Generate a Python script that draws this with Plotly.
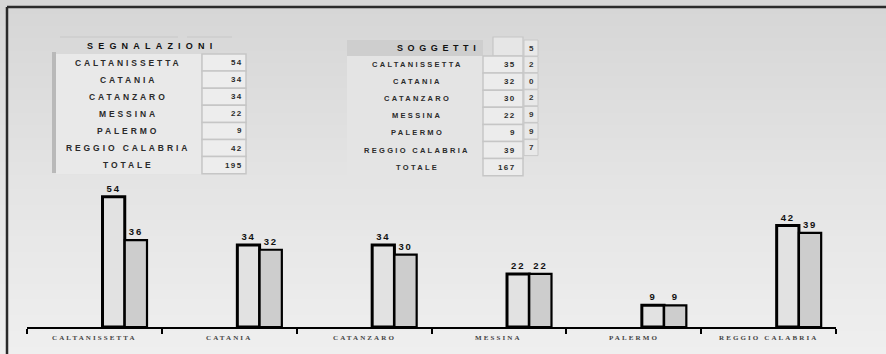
import plotly.graph_objects as go

# ---- data ----
provinces = ["CALTANISSETTA", "CATANIA", "CATANZARO", "MESSINA", "PALERMO", "REGGIO CALABRIA"]
segnalazioni = [54, 34, 34, 22, 9, 42]          # table + first bar series
soggetti_table = [35, 32, 30, 22, 9, 39]        # values printed in the SOGGETTI table
soggetti_bars = [36, 32, 30, 22, 9, 39]         # values labelled on the second bar series
side_digits = ["5", "2", "0", "2", "9", "9", "7"]  # partly covered column beside SOGGETTI

W, H = 886, 354
idx = list(range(len(provinces)))

fig = go.Figure()

# ---- page background: vertical gradient drawn as a smooth heatmap in pixel space ----
bg_rows = [7, H]
fig.add_trace(go.Heatmap(
    x=[7, W], y=bg_rows, z=[[0, 0], [1, 1]], zsmooth="best", showscale=False,
    colorscale=[[0, "#d6d6d6"], [0.5, "#e4e4e4"], [1, "#efefef"]],
    hoverinfo="skip", xaxis="x", yaxis="y"))

# ---- bars ----
def spaced(s, sp):
    return f'<span style="letter-spacing:{sp}px">{s}</span>'

bar_font = dict(family="Liberation Sans", size=9.5, color="#111", weight="bold")
fig.add_trace(go.Bar(
    x=idx, y=segnalazioni, width=0.165, offset=0.06,
    marker=dict(color="#e2e2e2", line=dict(color="#000", width=3)),
    text=[spaced(v, 1.8) for v in segnalazioni], textposition="outside",
    textfont=bar_font, cliponaxis=False, showlegend=False,
    xaxis="x2", yaxis="y2"))
fig.add_trace(go.Bar(
    x=idx, y=soggetti_bars, width=0.165, offset=0.225,
    marker=dict(color="#cdcdcd", line=dict(color="#000", width=2.2)),
    text=[spaced(v, 1.8) for v in soggetti_bars], textposition="outside",
    textfont=bar_font, cliponaxis=False, showlegend=False,
    xaxis="x2", yaxis="y2"))

shapes = []
ann = []

# frame edges (left and top)
shapes.append(dict(type="line", xref="x", yref="y", x0=7, x1=7, y0=7, y1=H,
                   line=dict(color="#2a2a2a", width=2.5)))
shapes.append(dict(type="line", xref="x", yref="y", x0=7, x1=W, y0=7, y1=7,
                   line=dict(color="#2a2a2a", width=2.5)))


def rect(x0, y0, x1, y1, fill, lc="rgba(0,0,0,0)", lw=0):
    shapes.append(dict(type="rect", xref="x", yref="y", x0=x0, x1=x1, y0=y0, y1=y1,
                       fillcolor=fill, line=dict(color=lc, width=lw), layer="above"))


def text(x, y, s, size, sp, anchor="center", color="#2b2b2b", bold=True, family="Liberation Sans"):
    ann.append(dict(xref="x", yref="y", x=x, y=y, text=spaced(s, sp), showarrow=False,
                    xanchor=anchor, yanchor="middle",
                    font=dict(family=family, size=size, color=color,
                              weight="bold" if bold else "normal")))


row_h = 17.1
row_lab = provinces + ["TOTALE"]

# ---- table 1: SEGNALAZIONI ----
rect(56, 38, 218, 54, "#d9d9d9")
rect(56, 54, 201, 174, "#e9e9e9")
rect(52, 52, 56, 173, "#b9b9b9")
shapes.append(dict(type="line", xref="x", yref="y", x0=60, x1=178, y0=37, y1=37,
                   line=dict(color="#c8c8c8", width=1)))
shapes.append(dict(type="line", xref="x", yref="y", x0=187, x1=232, y0=37, y1=37,
                   line=dict(color="#c8c8c8", width=1)))
text(152, 45.5, "SEGNALAZIONI", 9, 5.2, color="#111")
vals1 = segnalazioni + [sum(segnalazioni)]
for i, (lab, v) in enumerate(zip(row_lab, vals1)):
    y0 = 54 + i * row_h
    rect(202, y0, 246, y0 + row_h, "#ededed", "#c6c6c6", 1.5)
    yc = y0 + row_h / 2
    text(128, yc, lab, 8.5, 2.9)
    text(245, yc, str(v), 8, 1.4, anchor="right")

# ---- table 2: SOGGETTI ----
rect(347, 40, 483, 56, "#cecece")
rect(347, 56, 483, 175, "#e4e4e4")
rect(493, 37, 523, 56, "#e6e6e6", "#c6c6c6", 1.2)
text(438, 47.5, "SOGGETTI", 9, 4.6, color="#111")
vals2 = soggetti_table + [sum(soggetti_table)]
for i, (lab, v) in enumerate(zip(row_lab, vals2)):
    y0 = 56 + i * row_h
    rect(483, y0, 523, y0 + row_h, "#ececec", "#c6c6c6", 1.5)
    yc = y0 + row_h / 2
    text(417, yc, lab, 7.5, 2.3)
    text(518, yc, str(v), 8, 1.4, anchor="right")
# side column digits
for i, d in enumerate(side_digits):
    yc = 48 + i * 16.6
    rect(524, yc - 8, 538, yc + 8, "#e8e8e8", "#c8c8c8", 1)
    text(531, yc, d, 8, 0, color="#333")

# ---- category labels under the axis ----
for i, p in enumerate(provinces):
    ann.append(dict(xref="x2", yref="y", x=i, y=338, text=spaced(p, 2.1), showarrow=False,
                    xanchor="center", yanchor="middle",
                    font=dict(family="Liberation Serif", size=7, color="#444", weight="bold")))

fig.update_layout(
    width=W, height=H, margin=dict(l=0, r=0, t=0, b=0),
    paper_bgcolor="#ffffff", plot_bgcolor="rgba(0,0,0,0)",
    barmode="overlay", showlegend=False,
    xaxis=dict(domain=[0, 1], range=[0, W], visible=False, fixedrange=True),
    yaxis=dict(domain=[0, 1], range=[H, 0], visible=False, fixedrange=True),
    xaxis2=dict(domain=[27 / W, 836 / W], range=[-0.5, 5.5], anchor="y2",
                showgrid=False, zeroline=False, showline=True, linecolor="#000", linewidth=2,
                ticks="outside", tickvals=[i - 0.5 for i in range(7)], ticklen=5,
                tickwidth=2, tickcolor="#000", showticklabels=False),
    yaxis2=dict(domain=[1 - 327 / H, 1 - 180 / H], range=[0, 60.9], anchor="x2",
                visible=False),
    shapes=shapes, annotations=ann,
)

fig.write_html("out.html")
